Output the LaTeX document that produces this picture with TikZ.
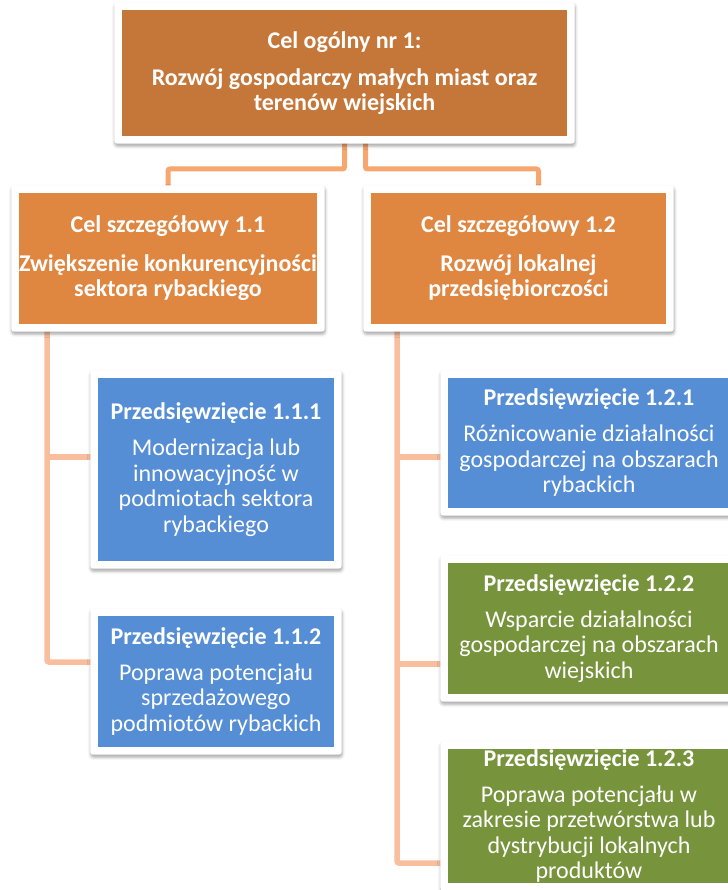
\documentclass[tikz,border=0pt]{standalone}
\usepackage{fontspec}
\setmainfont{Carlito}
\usetikzlibrary{backgrounds,shadows.blur}

\definecolor{celogol}{HTML}{C5773A}
\definecolor{celszcz}{HTML}{DF8641}
\definecolor{przblue}{HTML}{558ED5}
\definecolor{przgreen}{HTML}{77933C}
\definecolor{linktop}{HTML}{F6A66E}
\definecolor{linklow}{HTML}{F8BE9E}

\begin{document}
\begin{tikzpicture}[x=1pt,y=-1pt,
	box/.style={fill=#1, text=white, inner sep=0pt, align=center,
		font=\fontsize{24}{25.5}\selectfont},
	toplink/.style={draw=linktop, line width=5pt, rounded corners=2pt},
	link/.style={draw=linklow, line width=5.5pt, rounded corners=2pt}]
	
	\def\ramka{7.5pt};
	
	\useasboundingbox (0,0) rectangle (727,890);
	
	% cel ogolny
	\node[box=celogol, minimum width=445pt, minimum height=126pt] (top) at (344.5,73)
		{\textbf{Cel ogólny nr 1:}\\[11.5pt]\textbf{Rozwój gospodarczy małych miast oraz}\\\textbf{terenów wiejskich}};
	
	% cele szczegolowe
	\node[box=celszcz, minimum width=296pt, minimum height=131pt] (c11) at (168,258.5)
		{\textbf{Cel szczegółowy 1.1}\\[13pt]\textbf{Zwiększenie konkurencyjności}\\\textbf{sektora rybackiego}};
	\node[box=celszcz, minimum width=295pt, minimum height=131pt] (c12) at (518.5,258.5)
		{\textbf{Cel szczegółowy 1.2}\\[13pt]\textbf{Rozwój lokalnej}\\\textbf{przedsiębiorczości}};
	
	% przedsiewziecia
	\node[box=przblue, minimum width=236pt, minimum height=183pt] (p111) at (216,469.5)
		{\textbf{Przedsięwzięcie 1.1.1}\\[10.5pt]Modernizacja lub\\innowacyjność w\\podmiotach sektora\\rybackiego};
	\node[box=przblue, minimum width=236pt, minimum height=131pt] (p112) at (216,681.5)
		{\textbf{Przedsięwzięcie 1.1.2}\\[10.5pt]Poprawa potencjału\\sprzedażowego\\podmiotów rybackich};
	\node[box=przblue, minimum width=282pt, minimum height=130pt] (p121) at (589,443)
		{\textbf{Przedsięwzięcie 1.2.1}\\[10.5pt]Różnicowanie działalności\\gospodarczej na obszarach\\rybackich};
	\node[box=przgreen, minimum width=282pt, minimum height=131pt] (p122) at (589,628.5)
		{\textbf{Przedsięwzięcie 1.2.2}\\[10.5pt]Wsparcie działalności\\gospodarczej na obszarach\\wiejskich};
	\node[box=przgreen, minimum width=282pt, minimum height=134pt] (p123) at (589,816)
		{\textbf{Przedsięwzięcie 1.2.3}\\[10.5pt]Poprawa potencjału w\\zakresie przetwórstwa lub\\dystrybucji lokalnych\\produktów};
	
	\coordinate (tl) at (344.5,169);
	\coordinate (tr) at (365.5,169);
	\coordinate (s1) at (47,457);
	\coordinate (s2) at (47,662);
	\coordinate (r1) at (397,457);
	\coordinate (r2) at (397,664);
	\coordinate (r3) at (397,863);
	
	\begin{pgfonlayer}{background}
		\draw[toplink] (top.south -| tl) -- (tl) -| (c11.north);
		\draw[toplink] (top.south -| tr) -- (tr) -| ([xshift=20pt]c12.north);
		
		\draw[link] (c11.south -| s1) -- (s2) -- (p112.west |- s2);
		\draw[link] (s1) -- (p111.west |- s1);
		
		\draw[link] (c12.south -| r1) -- (r3) -- (p123.west |- r3);
		\draw[link] (r1) -- (p121.west |- r1);
		\draw[link] (r2) -- (p122.west |- r2);
		
		% biale ramki z cieniem
		\foreach \n in {top,c11,c12,p111,p112,p121,p122,p123}
			\fill[white, rounded corners=3pt,
				blur shadow={shadow xshift=0.5pt, shadow yshift=-2.5pt, shadow blur radius=3pt, shadow opacity=35}]
				([xshift=-\ramka,yshift=\ramka]\n.north west) rectangle ([xshift=\ramka,yshift=-\ramka]\n.south east);
	\end{pgfonlayer}
	
\end{tikzpicture}
\end{document}
